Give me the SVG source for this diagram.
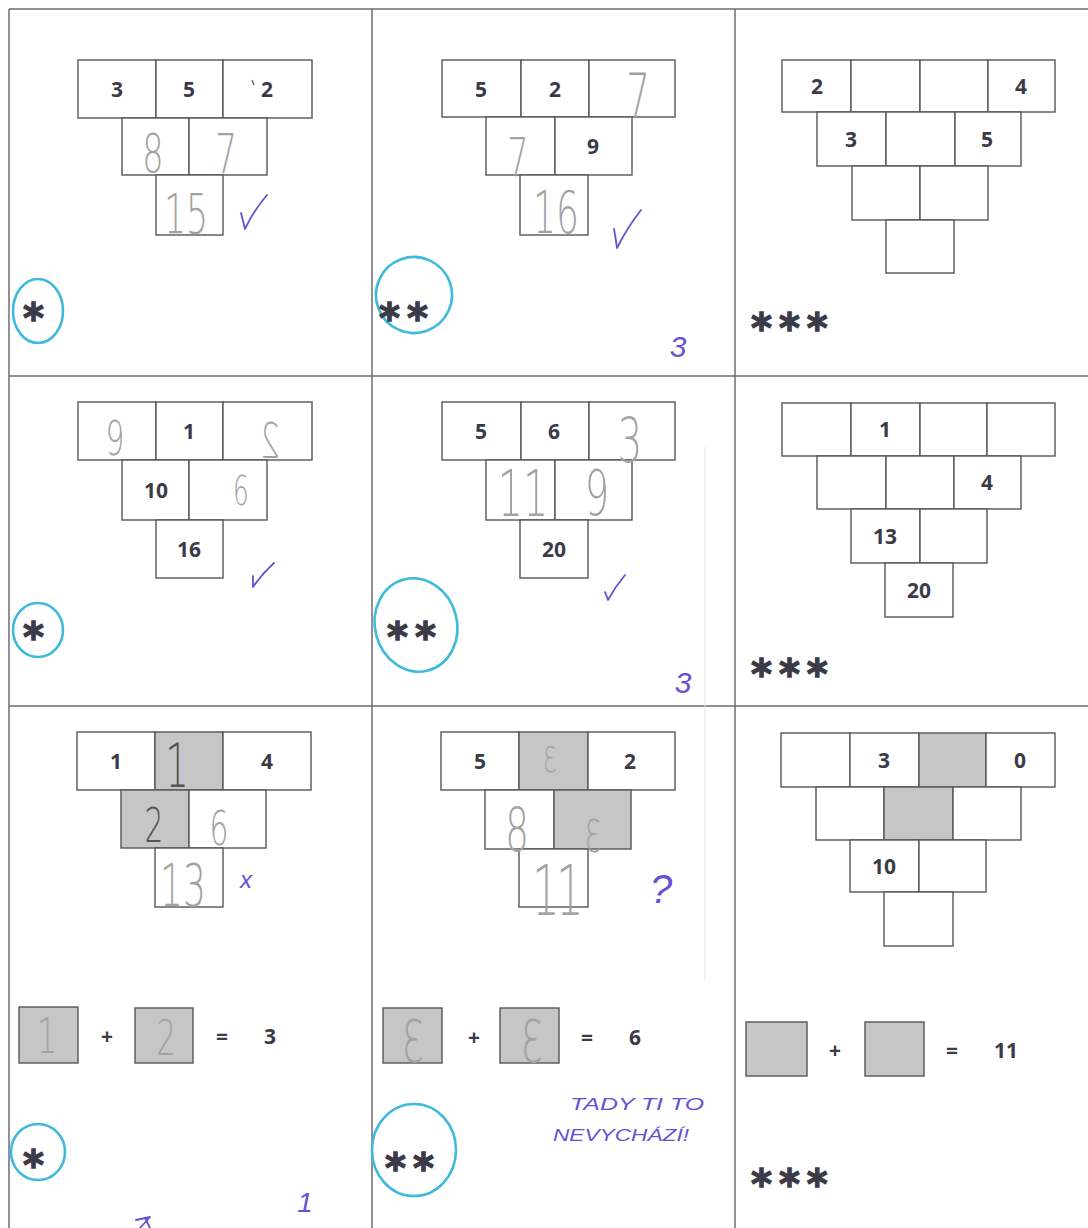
<svg xmlns="http://www.w3.org/2000/svg" width="1088" height="1228" viewBox="0 0 1088 1228">
<style>
.bx{fill:#fff;stroke:#55555c;stroke-width:1.4}
.sh{fill:#c6c6c6;stroke:#55555c;stroke-width:1.4}
.grid{fill:none;stroke:#6c6c74;stroke-width:1.5}
.pt{font-family:"Open Sans","DejaVu Sans",sans-serif;font-weight:700;font-size:21px;fill:#3b3b48;text-anchor:middle}
.st{font-family:"DejaVu Sans",sans-serif;font-weight:700;font-size:40px;fill:#3b3b48;stroke:#3b3b48;stroke-width:1.3;letter-spacing:7px}
.hw{font-family:"DejaVu Sans",sans-serif;font-weight:200;fill:#a2a2a2;text-anchor:middle;transform-box:fill-box;transform-origin:center;transform:scaleX(0.62)}
.hwm{font-family:"DejaVu Sans",sans-serif;font-weight:200;fill:#a2a2a2;text-anchor:middle;transform-box:fill-box;transform-origin:center;transform:scaleX(-0.62)}
.dk{fill:#555}
.ink{font-family:"Liberation Sans",sans-serif;font-style:italic;fill:#6a4fd4;text-anchor:middle}
.chk{fill:none;stroke:#6a4fd4;stroke-width:1.8;stroke-linecap:round;stroke-linejoin:round}
.cy{fill:none;stroke:#3fbadd;stroke-width:2.6}
</style>
<rect width="1088" height="1228" fill="#fff"/>
<g id="grid">
<path class="grid" d="M9,9H1088M9,376H1088M9,706H1088M9,9V1228M372,9V1228M735,9V1228"/>
<path d="M705,447V980" stroke="#e2e2e2" stroke-width="1" fill="none"/>
</g>

<g id="cell-1">
<rect class="bx" x="78" y="60" width="78" height="58"/><rect class="bx" x="156" y="60" width="67" height="58"/><rect class="bx" x="223" y="60" width="89" height="58"/>
<rect class="bx" x="122" y="118" width="67" height="57"/><rect class="bx" x="189" y="118" width="78" height="57"/>
<rect class="bx" x="156" y="175" width="67" height="60"/>
<text class="pt" x="117" y="97">3</text><text class="pt" x="189" y="97">5</text><text class="pt" x="267" y="97">2</text>
<path d="M252,80l2,5" stroke="#555" stroke-width="1.2"/>
<text class="hw" x="153" y="172" font-size="54">8</text>
<text class="hw" x="226" y="173" font-size="56">7</text>
<text class="hw" x="186" y="233" font-size="56">15</text>
<path class="chk" d="M241,213Q243,221 245,229Q254,210 267,195"/>
<ellipse class="cy" cx="38" cy="311" rx="25" ry="32"/>
<text class="st" x="23" y="332">*</text>
</g>

<g id="cell-2">
<rect class="bx" x="442" y="60" width="79" height="57"/><rect class="bx" x="521" y="60" width="68" height="57"/><rect class="bx" x="589" y="60" width="86" height="57"/>
<rect class="bx" x="486" y="117" width="69" height="58"/><rect class="bx" x="555" y="117" width="77" height="58"/>
<rect class="bx" x="520" y="175" width="68" height="60"/>
<text class="pt" x="481" y="97">5</text><text class="pt" x="555" y="97">2</text><text class="pt" x="593" y="154">9</text>
<text class="hw" x="638" y="117" font-size="60">7</text>
<text class="hw" x="518" y="176" font-size="54">7</text>
<text class="hw" x="556" y="233" font-size="58">16</text>
<path class="chk" d="M614,229Q616,240 617,248Q627,228 641,210"/>
<ellipse class="cy" cx="414" cy="295" rx="38" ry="38" transform="rotate(-20 414 295)"/>
<text class="st" x="379" y="332">**</text>
<text class="ink" x="678" y="357" font-size="30">3</text>
</g>

<g id="cell-3">
<rect class="bx" x="782" y="60" width="69" height="52"/><rect class="bx" x="851" y="60" width="69" height="52"/><rect class="bx" x="920" y="60" width="68" height="52"/><rect class="bx" x="988" y="60" width="67" height="52"/>
<rect class="bx" x="817" y="112" width="69" height="54"/><rect class="bx" x="886" y="112" width="69" height="54"/><rect class="bx" x="955" y="112" width="66" height="54"/>
<rect class="bx" x="852" y="166" width="68" height="54"/><rect class="bx" x="920" y="166" width="68" height="54"/>
<rect class="bx" x="886" y="220" width="68" height="53"/>
<text class="pt" x="817" y="94">2</text><text class="pt" x="1021" y="94">4</text>
<text class="pt" x="851" y="147">3</text><text class="pt" x="987" y="147">5</text>
<text class="st" x="751" y="342">***</text>
</g>

<g id="cell-4">
<rect class="bx" x="78" y="402" width="78" height="58"/><rect class="bx" x="156" y="402" width="67" height="58"/><rect class="bx" x="223" y="402" width="89" height="58"/>
<rect class="bx" x="122" y="460" width="67" height="60"/><rect class="bx" x="189" y="460" width="78" height="60"/>
<rect class="bx" x="156" y="520" width="67" height="58"/>
<text class="pt" x="189" y="439">1</text><text class="pt" x="156" y="498">10</text><text class="pt" x="189" y="557">16</text>
<text class="hw" x="115" y="455" font-size="48">9</text>
<text class="hwm" x="270" y="458" font-size="50">2</text>
<text class="hw" x="241" y="505" font-size="40">6</text>
<path class="chk" d="M253,576Q253,582 253,587Q262,574 274,563"/>
<ellipse class="cy" cx="38" cy="630" rx="25" ry="27"/>
<text class="st" x="23" y="651">*</text>
</g>

<g id="cell-5">
<rect class="bx" x="442" y="402" width="79" height="58"/><rect class="bx" x="521" y="402" width="68" height="58"/><rect class="bx" x="589" y="402" width="86" height="58"/>
<rect class="bx" x="486" y="460" width="69" height="60"/><rect class="bx" x="555" y="460" width="77" height="60"/>
<rect class="bx" x="520" y="520" width="68" height="58"/>
<text class="pt" x="481" y="439">5</text><text class="pt" x="554" y="439">6</text><text class="pt" x="554" y="557">20</text>
<text class="hw" x="630" y="462" font-size="62">3</text>
<text class="hw" x="523" y="516" font-size="64">11</text>
<text class="hw" x="597" y="515" font-size="62">9</text>
<path class="chk" d="M605,592Q607,597 608,600Q615,587 625,575"/>
<ellipse class="cy" cx="416" cy="625" rx="41" ry="47" transform="rotate(-15 416 625)"/>
<text class="st" x="387" y="651">**</text>
<text class="ink" x="683" y="693" font-size="30">3</text>
</g>

<g id="cell-6">
<rect class="bx" x="782" y="403" width="69" height="53"/><rect class="bx" x="851" y="403" width="69" height="53"/><rect class="bx" x="920" y="403" width="67" height="53"/><rect class="bx" x="987" y="403" width="68" height="53"/>
<rect class="bx" x="817" y="456" width="69" height="53"/><rect class="bx" x="886" y="456" width="68" height="53"/><rect class="bx" x="954" y="456" width="67" height="53"/>
<rect class="bx" x="851" y="509" width="69" height="54"/><rect class="bx" x="920" y="509" width="67" height="54"/>
<rect class="bx" x="885" y="563" width="68" height="54"/>
<text class="pt" x="885" y="437">1</text><text class="pt" x="987" y="490">4</text>
<text class="pt" x="885" y="544">13</text><text class="pt" x="919" y="598">20</text>
<text class="st" x="751" y="688">***</text>
</g>

<g id="cell-7">
<rect class="bx" x="77" y="732" width="78" height="58"/><rect class="sh" x="155" y="732" width="68" height="58"/><rect class="bx" x="223" y="732" width="88" height="58"/>
<rect class="sh" x="121" y="790" width="68" height="58"/><rect class="bx" x="189" y="790" width="77" height="58"/>
<rect class="bx" x="155" y="848" width="68" height="59"/>
<text class="pt" x="116" y="769">1</text><text class="pt" x="267" y="769">4</text>
<text class="hw dk" x="177" y="787" font-size="60">1</text>
<text class="hw dk" x="154" y="842" font-size="48">2</text>
<text class="hw" x="219" y="845" font-size="48">6</text>
<text class="hw" x="183" y="906" font-size="58">13</text>
<text class="ink" x="246" y="888" font-size="24" font-style="normal">x</text>
<rect class="sh" x="19" y="1007" width="59" height="56"/>
<rect class="sh" x="135" y="1008" width="58" height="55"/>
<text class="hw" x="47" y="1053" font-size="50" fill="#8f8f8f">1</text>
<text class="hw" x="166" y="1055" font-size="50" fill="#8f8f8f">2</text>
<text class="pt" x="107" y="1044">+</text><text class="pt" x="222" y="1044">=</text><text class="pt" x="270" y="1044">3</text>
<ellipse class="cy" cx="38" cy="1152" rx="27" ry="28"/>
<text class="st" x="23" y="1179">*</text>
<text class="ink" x="305" y="1212" font-size="28">1</text>
<path class="chk" d="M136,1220L150,1217L140,1228M145,1218L150,1228"/>
</g>

<g id="cell-8">
<rect class="bx" x="441" y="732" width="78" height="58"/><rect class="sh" x="519" y="732" width="69" height="58"/><rect class="bx" x="588" y="732" width="87" height="58"/>
<rect class="bx" x="485" y="790" width="69" height="59"/><rect class="sh" x="554" y="790" width="77" height="59"/>
<rect class="bx" x="519" y="849" width="69" height="58"/>
<text class="pt" x="480" y="769">5</text><text class="pt" x="630" y="769">2</text>
<text class="hwm" x="550" y="772" font-size="36">3</text>
<text class="hw" x="517" y="851" font-size="60">8</text>
<text class="hwm" x="593" y="852" font-size="44">3</text>
<text class="hw" x="556" y="915" font-size="70" letter-spacing="-6">11</text>
<text class="ink" x="661" y="903" font-size="40">?</text>
<rect class="sh" x="383" y="1008" width="59" height="55"/>
<rect class="sh" x="500" y="1008" width="59" height="55"/>
<text class="hwm" x="413" y="1062" font-size="58" fill="#8f8f8f">3</text>
<text class="hwm" x="532" y="1062" font-size="58" fill="#8f8f8f">3</text>
<text class="pt" x="474" y="1045">+</text><text class="pt" x="587" y="1045">=</text><text class="pt" x="635" y="1045">6</text>
<text class="ink" x="637" y="1110" font-size="17" textLength="134" lengthAdjust="spacingAndGlyphs">TADY TI TO</text>
<text class="ink" x="621" y="1141" font-size="17" textLength="136" lengthAdjust="spacingAndGlyphs">NEVYCHÁZÍ!</text>
<ellipse class="cy" cx="414" cy="1150" rx="42" ry="46"/>
<text class="st" x="385" y="1182">**</text>
</g>

<g id="cell-9">
<rect class="bx" x="781" y="733" width="69" height="54"/><rect class="bx" x="850" y="733" width="69" height="54"/><rect class="sh" x="919" y="733" width="67" height="54"/><rect class="bx" x="986" y="733" width="69" height="54"/>
<rect class="bx" x="816" y="787" width="68" height="53"/><rect class="sh" x="884" y="787" width="69" height="53"/><rect class="bx" x="953" y="787" width="68" height="53"/>
<rect class="bx" x="850" y="840" width="69" height="52"/><rect class="bx" x="919" y="840" width="67" height="52"/>
<rect class="bx" x="884" y="892" width="69" height="54"/>
<text class="pt" x="884" y="768">3</text><text class="pt" x="1020" y="768">0</text>
<text class="pt" x="884" y="874">10</text>
<rect class="sh" x="746" y="1022" width="61" height="54"/>
<rect class="sh" x="865" y="1022" width="59" height="54"/>
<text class="pt" x="835" y="1058">+</text><text class="pt" x="952" y="1058">=</text><text class="pt" x="1006" y="1058">11</text>
<text class="st" x="751" y="1198">***</text>
</g>
</svg>
